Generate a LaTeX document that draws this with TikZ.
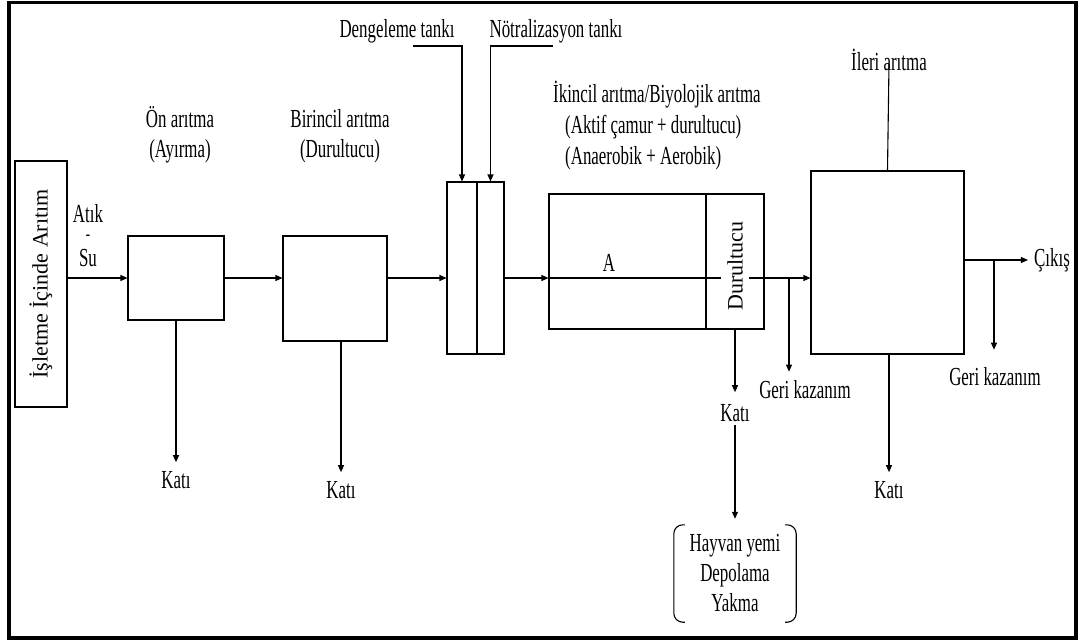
\documentclass[tikz,border=0pt]{standalone}
\usepackage{fontspec}
\setmainfont{Liberation Serif}[FakeStretch=0.65]
\newfontfamily\rotfont{Liberation Serif}
\usetikzlibrary{arrows.meta,calc,positioning}
\tikzset{
 plant/.style={x=1pt,y=-1pt,line join=miter,font=\fontsize{26}{30}\selectfont},
 unit/.style={rectangle,draw=black,fill=white,line width=1.1pt,inner sep=0pt},
 lbl/.style={align=center,inner sep=1pt},
 vlbl/.style={rotate=90,font=\rotfont\fontsize{22}{26}\selectfont,inner sep=6pt},
 pipe/.style={draw=black,line width=1.1pt},
 flow/.style={pipe,-{Triangle[length=7pt,width=6pt]}},
 tolbl/.style={flow,shorten >=8pt},
 frame/.style={draw=black,line width=3.5pt}
}

\begin{document}
\begin{tikzpicture}[plant]
 \useasboundingbox (0,0) rectangle (1080,641);
 \draw[frame] (9,2.5) rectangle (1076,638);
 \coordinate (main) at (0,278);
 % process units
 \node[unit,minimum width=52pt,minimum height=246pt] (src) at (41,284) {};
 \node[vlbl] (srcL) at (src.center) {İşletme İçinde Arıtım};
 \node[unit,minimum width=96pt,minimum height=84pt] (pre) at (176,278) {};
 \node[unit,minimum width=104pt,minimum height=105pt] (prim) at (335,288.5) {};
 \node[unit,minimum width=30pt,minimum height=172pt] (eq) at (462,268) {};
 \node[unit,minimum width=27pt,minimum height=172pt] (neu) at (490.5,268) {};
 \node[unit,minimum width=157pt,minimum height=135pt] (bio) at (627.5,261.5) {};
 \node[unit,minimum width=58pt,minimum height=135pt] (clar) at (735,261.5) {};
 \node[unit,minimum width=153pt,minimum height=183pt] (adv) at (887.5,262.5) {};
 % labels
 \node[lbl,inner sep=0pt] (atik) at (88,214) {Atık};
 \node[lbl,inner sep=0pt,font=\fontsize{20}{22}\selectfont] (dash) at (88,237.5) {-};
 \node[lbl,inner sep=0pt] (su) at (88,258.5) {Su};
 \node[lbl] (preL) at (180,135) {Ön arıtma\\(Ayırma)};
 \node[lbl] (primL) at (340,136) {Birincil arıtma\\(Durultucu)};
 \node[lbl] (eqL) at (397,31) {Dengeleme tankı};
 \node[lbl] (neuL) at (556,31) {Nötralizasyon tankı};
 \node[lbl,align=left,anchor=west,font=\fontsize{26}{31}\selectfont] (bioL) at (552,126)
  {İkincil arıtma/Biyolojik arıtma\\\hspace*{12pt}(Aktif çamur + durultucu)\\\hspace*{12pt}(Anaerobik + Aerobik)};
 \node[lbl] (aL) at (609,263) {A};
 \node[vlbl] (clarL) at (735,266) {Durultucu};
 \node[lbl] (advL) at (889,60) {İleri arıtma};
 \node[lbl] (out) at (1052,260) {Çıkış};
 \node[lbl] (rec1) at (805,390) {Geri kazanım};
 \node[lbl] (rec2) at (995,377) {Geri kazanım};
 \foreach \n/\x/\y in {k1/176/480,k2/341/490,k3/735/413,k4/889/490}
  \node[lbl] (\n) at (\x,\y) {Katı};
 \node[lbl,minimum width=122pt,minimum height=97pt] (use) at (735,573.5) {Hayvan yemi\\Depolama\\Yakma};
 \draw[pipe,rounded corners=9pt] ([xshift=11pt]use.north west) -- (use.north west) -- (use.south west) -- ([xshift=11pt]use.south west);
 \draw[pipe,rounded corners=9pt] ([xshift=-11pt]use.north east) -- (use.north east) -- (use.south east) -- ([xshift=-11pt]use.south east);
 % main line
 \draw[flow] (src.east |- main) -- (pre.west |- main);
 \draw[flow] (pre.east |- main) -- (prim.west |- main);
 \draw[flow] (prim.east |- main) -- (eq.west |- main);
 \draw[flow] (neu.east |- main) -- (bio.west |- main);
 \draw[pipe] (bio.west |- main) -- (clarL.north |- main);
 \draw[flow] (clarL.south |- main) -- (adv.west |- main);
 \draw[flow,shorten >=5pt] (adv.east |- out.west) -- (out.west);
 % tank inlets
 \coordinate (e0) at (413,46);
 \coordinate (n0) at (553,46);
 \draw[flow] (e0) -| (eq.north);
 \draw[flow] (n0) -| (neu.north);
 \draw[pipe] ([yshift=8pt]advL.south) -- (adv.north);
 % solids and recovery
 \draw[tolbl] (pre.south) -- (k1.north);
 \draw[tolbl] (prim.south -| k2) -- (k2.north);
 \draw[flow,shorten >=11pt] (clar.south) -- (k3.north);
 \draw[flow,shorten <=2pt,shorten >=6pt] (k3.south) -- (use.north);
 \draw[tolbl] (adv.south -| k4) -- (k4.north);
 \coordinate (j1) at (789,278);
 \coordinate (j2) at (994,260);
 \draw[tolbl] (j1) -- (j1 |- rec1.north);
 \draw[flow,shorten >=17pt] (j2) -- (j2 |- rec2.north);
\end{tikzpicture}
\end{document}
